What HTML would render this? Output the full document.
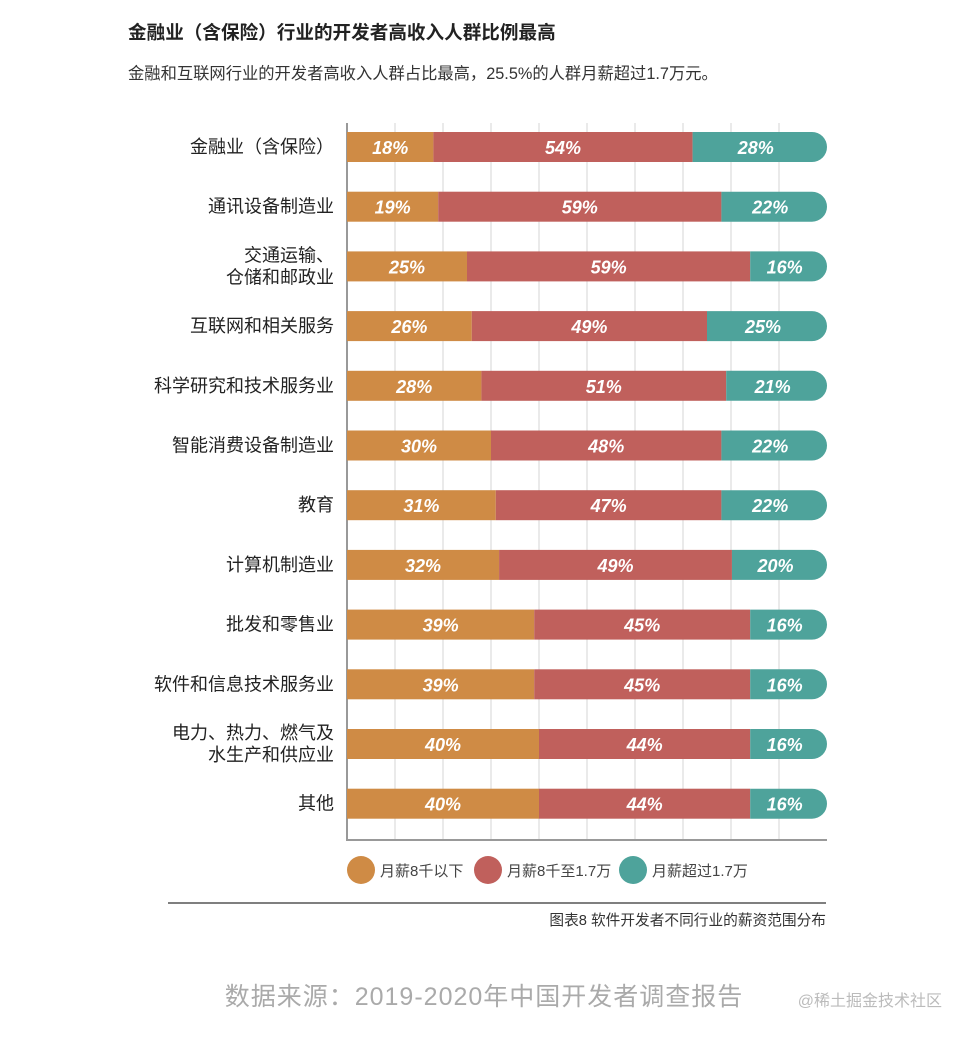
<!DOCTYPE html>
<html><head><meta charset="utf-8">
<style>
body{margin:0;background:#fff;width:970px;height:1040px;overflow:hidden;font-family:"Liberation Sans","Noto Sans CJK SC",sans-serif;}
svg text{font-family:"Liberation Sans","Noto Sans CJK SC",sans-serif;}
</style></head>
<body>
<svg id="c" width="970" height="1040">
<text x="128" y="39" font-size="18.6" font-weight="bold" fill="#222">金融业（含保险）行业的开发者高收入人群比例最高</text>
<text x="128" y="79" font-size="16.3" fill="#333">金融和互联网行业的开发者高收入人群占比最高，25.5%的人群月薪超过1.7万元。</text>
<g id="grid"></g>
<g id="bars"></g>
<g id="legend"></g>
<line x1="168" y1="903" x2="826" y2="903" stroke="#555" stroke-width="1.5"/>
<text x="826" y="925" font-size="14.7" fill="#333" text-anchor="end">图表8 软件开发者不同行业的薪资范围分布</text>
<text x="484" y="1005" font-size="25" fill="#aaa" text-anchor="middle" letter-spacing="1">数据来源：2019-2020年中国开发者调查报告</text>
<text x="942" y="1006" font-size="16" fill="#bbb" text-anchor="end">@稀土掘金技术社区</text>
</svg>
<script>
const categories=[["金融业（含保险）"],["通讯设备制造业"],["交通运输、","仓储和邮政业"],["互联网和相关服务"],["科学研究和技术服务业"],["智能消费设备制造业"],["教育"],["计算机制造业"],["批发和零售业"],["软件和信息技术服务业"],["电力、热力、燃气及","水生产和供应业"],["其他"]];
const low=[18,19,25,26,28,30,31,32,39,39,40,40];
const mid=[54,59,59,49,51,48,47,49,45,45,44,44];
const high=[28,22,16,25,21,22,22,20,16,16,16,16];
const seriesNames=["月薪8千以下","月薪8千至1.7万","月薪超过1.7万"];
const colors=["#cf8b45","#c0605c","#4ea39b"];
const NS="http://www.w3.org/2000/svg";
const x0=347,W=480,y0=147,step=59.7,bh=30;
const X=v=>x0+v/100*W;
const Y=i=>y0+i*step;
function mk(t,a,p){const e=document.createElementNS(NS,t);for(const k in a)e.setAttribute(k,a[k]);p.appendChild(e);return e;}
const grid=document.getElementById('grid');
for(let k=1;k<=9;k++){const l=mk('line',{x1:X(k*10),x2:X(k*10),y1:123,y2:840,stroke:'#d5d5d5','stroke-width':1},grid);

}
const ax=mk('line',{x1:x0,x2:x0,y1:123,y2:841,stroke:'#999','stroke-width':2},grid);


const bx=mk('line',{x1:x0,x2:X(100),y1:840,y2:840,stroke:'#999','stroke-width':2},grid);


const bars=document.getElementById('bars');
categories.forEach((c,i)=>{
 const cy=Y(i);const vals=[low[i],mid[i],high[i]];
 const tot=vals.reduce((a,b)=>a+b,0);
 const g=mk('g',{},bars);
 
 
 const lab=mk('text',{x:334,'font-size':18,fill:'#222','text-anchor':'end'},g);
 
 
 c.forEach((s,j)=>{const t=mk('tspan',{x:334,y:cy+6+(c.length>1?(j-0.5)*22:0)},lab);t.textContent=s;});
 let acc=0;
 vals.forEach((v,s)=>{
  const xa=X(acc/tot*100),xb=X((acc+v)/tot*100);
  let r;
  if(s===2){const rr=bh/2;r=mk('path',{d:`M${xa},${cy-bh/2}H${xb-rr}A${rr},${rr} 0 0 1 ${xb-rr},${cy+bh/2}H${xa}Z`,fill:colors[s]},g);}
  else r=mk('rect',{x:xa,y:cy-bh/2,width:xb-xa,height:bh,fill:colors[s]},g);
  
  
  const t=mk('text',{x:(xa+xb)/2+(s===2?-4:0),y:cy+7,'font-size':18,'font-weight':'bold','font-style':'italic',fill:'#fff','text-anchor':'middle'},g);
  
  
  t.textContent=v+'%';
  acc+=v;
 });
});
const leg=document.getElementById('legend');
const lx=[361,488,633];
seriesNames.forEach((n,s)=>{
 const g=mk('g',{},leg);
 
 
 mk('circle',{cx:lx[s],cy:870,r:14,fill:colors[s]},g);
 const t=mk('text',{x:lx[s]+19,y:876,'font-size':15,fill:'#444'},g);
 t.textContent=n;
});
</script>
</body></html>
